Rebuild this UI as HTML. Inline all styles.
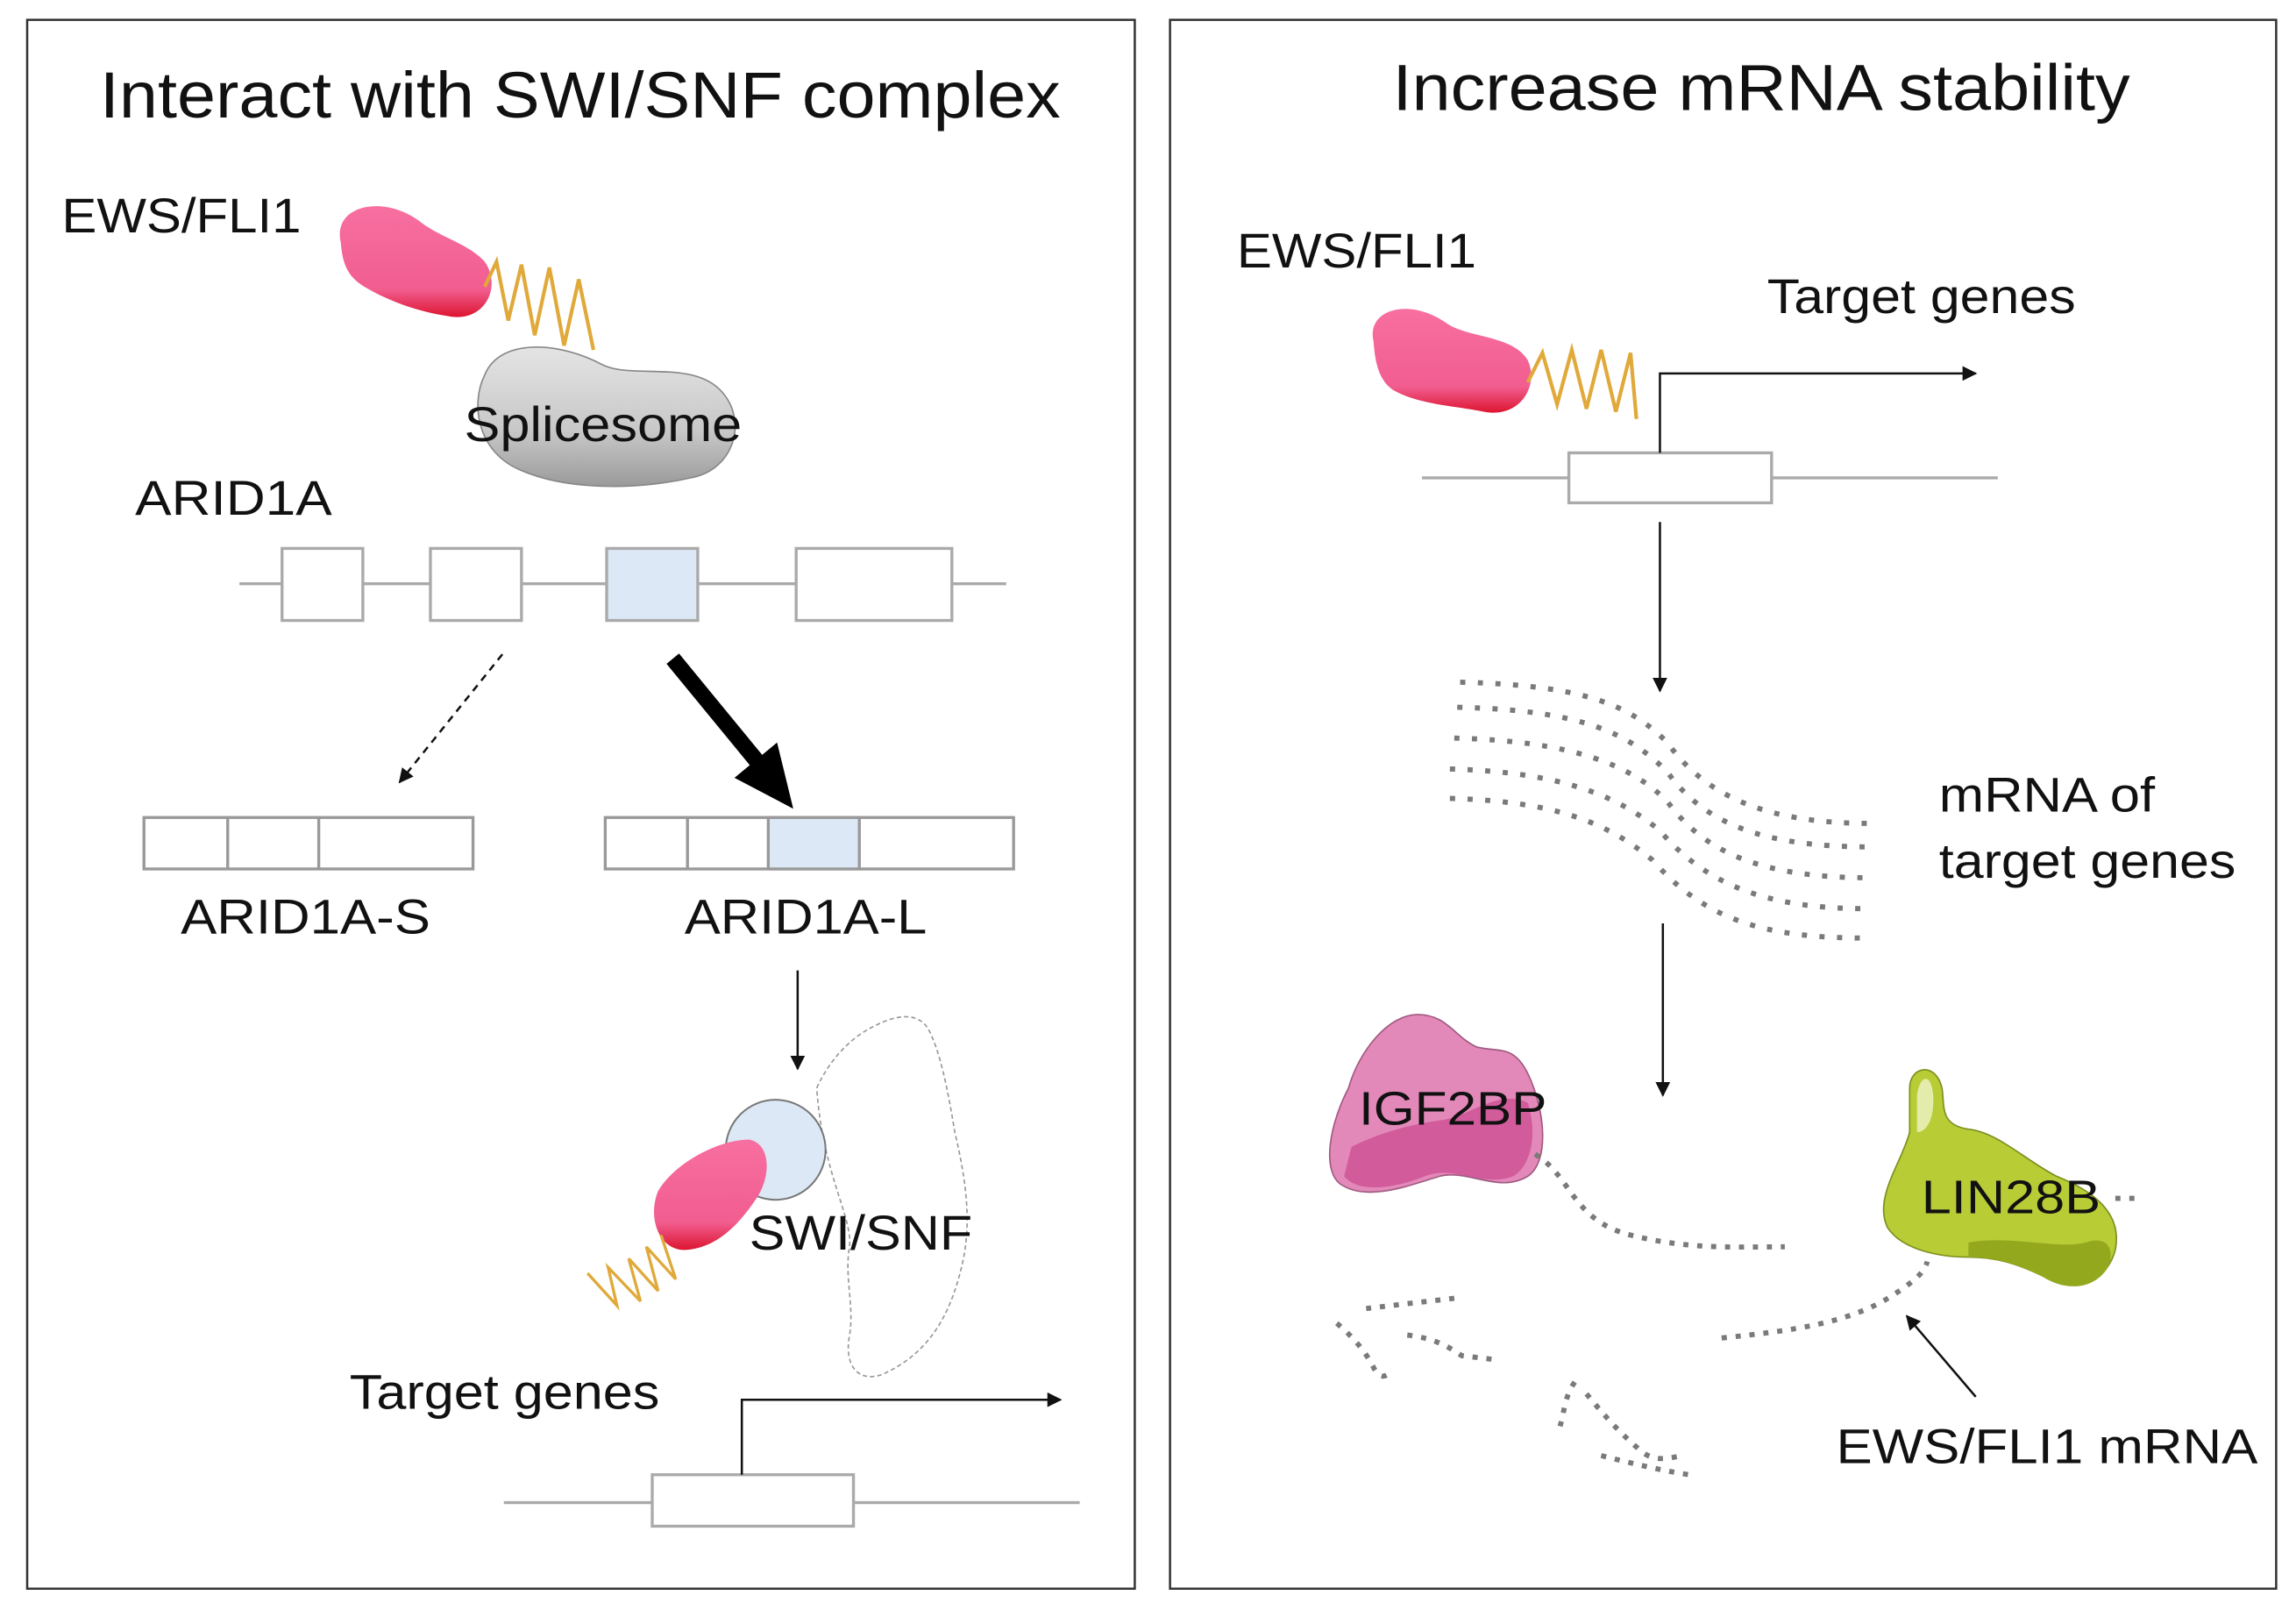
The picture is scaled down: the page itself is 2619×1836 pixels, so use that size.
<!DOCTYPE html>
<html><head><meta charset="utf-8"><style>
html,body{margin:0;padding:0;background:#fff;}
svg{display:block;}
text{font-family:"Liberation Sans",Arial,sans-serif;fill:#111;}
</style></head><body>
<svg width="2619" height="1836" viewBox="0 0 1563 1095" preserveAspectRatio="none" xmlns="http://www.w3.org/2000/svg">
<defs>
<marker id="ah" markerWidth="10" markerHeight="10" refX="9" refY="5" orient="auto" markerUnits="userSpaceOnUse"><path d="M0,0 L10,5 L0,10 Z" fill="#111"/></marker>
<linearGradient id="pk" x1="0" y1="0" x2="0" y2="1"><stop offset="0" stop-color="#f76fa0"/><stop offset="0.75" stop-color="#f25d90"/><stop offset="1" stop-color="#dc1530"/></linearGradient>
<linearGradient id="gr" x1="0" y1="0" x2="0" y2="1"><stop offset="0" stop-color="#e4e4e4"/><stop offset="0.6" stop-color="#c8c8c8"/><stop offset="1" stop-color="#9a9a9a"/></linearGradient>
</defs>
<rect width="1563" height="1095" fill="#fff"/>
<rect x="18.5" y="13.5" width="754" height="1067" fill="none" stroke="#333" stroke-width="1.5"/>
<rect x="796.5" y="13.5" width="753" height="1067" fill="none" stroke="#333" stroke-width="1.5"/>

<text x="68" y="80" font-size="44" textLength="654" lengthAdjust="spacingAndGlyphs">Interact with SWI/SNF complex</text>
<text x="948" y="75" font-size="44" textLength="502" lengthAdjust="spacingAndGlyphs">Increase mRNA stability</text>

<text x="42" y="158" font-size="33" textLength="163" lengthAdjust="spacingAndGlyphs">EWS/FLI1</text>
<path d="M232,165 C226,140 260,132 285,150 C300,162 318,165 330,178 C342,195 330,220 305,215 C285,212 265,205 248,195 C236,188 233,178 232,165 Z" fill="url(#pk)"/>
<path d="M330,195 L338,178 L346,218 L355,180 L364,228 L374,182 L384,235 L394,190 L404,238" fill="none" stroke="#e0a93a" stroke-width="2.5"/>
<path d="M330,255 C340,230 380,232 410,248 C430,258 470,245 490,265 C510,285 500,320 470,325 C440,332 390,335 355,320 C325,308 320,275 330,255 Z" fill="url(#gr)" stroke="#888" stroke-width="1"/>
<text x="316" y="300" font-size="33" textLength="189" lengthAdjust="spacingAndGlyphs">Splicesome</text>

<text x="92" y="350" font-size="33" textLength="134" lengthAdjust="spacingAndGlyphs">ARID1A</text>
<line x1="163" y1="397" x2="685" y2="397" stroke="#aaa" stroke-width="2"/>
<g stroke="#aaa" stroke-width="2">
<rect x="192" y="373" width="55" height="49" fill="#fff"/>
<rect x="293" y="373" width="62" height="49" fill="#fff"/>
<rect x="413" y="373" width="62" height="49" fill="#dce8f5"/>
<rect x="542" y="373" width="106" height="49" fill="#fff"/>
</g>
<line x1="342" y1="445" x2="272" y2="532" stroke="#111" stroke-width="1.5" stroke-dasharray="5 4" marker-end="url(#ah)"/>
<line x1="458" y1="448" x2="518" y2="521" stroke="#000" stroke-width="11"/>
<polygon points="540,550 500,529 529,505" fill="#000"/>

<g stroke="#999" stroke-width="2" fill="#fff">
<rect x="98" y="556" width="224" height="35"/>
<line x1="155" y1="556" x2="155" y2="591"/><line x1="217" y1="556" x2="217" y2="591"/>
<rect x="412" y="556" width="278" height="35"/>
<rect x="523" y="556" width="62" height="35" fill="#dce8f5"/>
<line x1="468" y1="556" x2="468" y2="591"/>
</g>
<text x="123" y="635" font-size="33" textLength="170" lengthAdjust="spacingAndGlyphs">ARID1A-S</text>
<text x="466" y="635" font-size="33" textLength="165" lengthAdjust="spacingAndGlyphs">ARID1A-L</text>
<line x1="543" y1="660" x2="543" y2="727" stroke="#111" stroke-width="1.5" marker-end="url(#ah)"/>

<path d="M556,740 C565,720 580,705 595,698 C610,690 625,688 632,700 C640,715 645,740 650,770 C657,800 662,830 655,860 C648,890 635,920 600,935 C585,940 575,930 578,910 C582,890 575,870 578,850 C582,830 560,800 556,740 Z" fill="none" stroke="#999" stroke-width="1" stroke-dasharray="3 2"/>
<circle cx="528" cy="782" r="34" fill="#dce8f5" stroke="#777" stroke-width="1.2"/>
<path d="M448,810 C460,790 490,775 510,775 C525,778 525,800 515,815 C505,830 490,848 468,850 C450,852 440,830 448,810 Z" fill="url(#pk)"/>
<path d="M450,840 L460,870 L440,848 L448,878 L428,856 L436,885 L414,862 L420,888 L400,866" fill="none" stroke="#e0a93a" stroke-width="2"/>
<text x="510" y="850" font-size="33" textLength="152" lengthAdjust="spacingAndGlyphs">SWI/SNF</text>

<text x="238" y="958" font-size="33" textLength="211" lengthAdjust="spacingAndGlyphs">Target genes</text>
<line x1="343" y1="1022" x2="735" y2="1022" stroke="#aaa" stroke-width="2"/>
<rect x="444" y="1003" width="137" height="35" fill="#fff" stroke="#aaa" stroke-width="2"/>
<polyline points="505,1003 505,952 722,952" fill="none" stroke="#111" stroke-width="1.5" marker-end="url(#ah)"/>

<text x="842" y="182" font-size="33" textLength="163" lengthAdjust="spacingAndGlyphs">EWS/FLI1</text>
<path d="M935,232 C930,210 960,202 985,220 C1000,230 1030,228 1040,245 C1048,262 1035,285 1010,280 C990,276 965,275 948,265 C938,258 936,245 935,232 Z" fill="url(#pk)"/>
<path d="M1040,260 L1050,240 L1060,275 L1070,238 L1080,278 L1090,238 L1100,280 L1110,240 L1114,285" fill="none" stroke="#e0a93a" stroke-width="2.5"/>
<text x="1203" y="213" font-size="33" textLength="210" lengthAdjust="spacingAndGlyphs">Target genes</text>
<line x1="968" y1="325" x2="1360" y2="325" stroke="#aaa" stroke-width="2"/>
<rect x="1068" y="308" width="138" height="34" fill="#fff" stroke="#aaa" stroke-width="2"/>
<polyline points="1130,308 1130,254 1345,254" fill="none" stroke="#111" stroke-width="1.5" marker-end="url(#ah)"/>
<line x1="1130" y1="355" x2="1130" y2="470" stroke="#111" stroke-width="1.5" marker-end="url(#ah)"/>

<g fill="none" stroke="#7a7a7a" stroke-width="3.5" stroke-dasharray="3.5 8.5">
<path d="M994,464 C1080,466 1110,480 1135,505 C1160,540 1200,560 1273,560"/>
<path d="M992,481 C1080,483 1110,500 1135,525 C1160,560 1200,576 1273,576"/>
<path d="M990,502 C1070,504 1110,520 1135,545 C1160,580 1200,597 1273,597"/>
<path d="M987,523 C1060,525 1100,540 1130,565 C1160,600 1200,618 1270,618"/>
<path d="M987,543 C1060,545 1095,560 1125,585 C1160,625 1200,638 1270,638"/>
</g>
<text x="1320" y="552" font-size="33" textLength="147" lengthAdjust="spacingAndGlyphs">mRNA of</text>
<text x="1320" y="597" font-size="33" textLength="202" lengthAdjust="spacingAndGlyphs">target genes</text>
<line x1="1132" y1="628" x2="1132" y2="745" stroke="#111" stroke-width="1.5" marker-end="url(#ah)"/>

<path d="M918,740 C925,715 945,690 965,690 C985,690 990,705 1005,712 C1020,716 1030,710 1040,730 C1052,755 1055,790 1040,800 C1020,812 1000,795 980,800 C960,806 930,818 912,805 C900,795 905,765 918,740 Z" fill="#e389b9" stroke="#a05a80" stroke-width="1"/>
<path d="M920,780 C940,770 960,765 980,762 C1000,760 1020,740 1040,750 C1048,775 1040,795 1030,800 C1010,808 990,792 970,800 C950,808 925,812 915,800 Z" fill="#d25b9c"/>
<text x="925" y="765" font-size="32" textLength="128" lengthAdjust="spacingAndGlyphs">IGF2BP</text>

<path d="M1300,740 C1300,725 1318,722 1322,740 C1324,752 1320,765 1340,768 C1360,770 1380,790 1400,800 C1425,810 1445,825 1440,850 C1435,870 1415,880 1395,870 C1375,860 1360,855 1340,855 C1320,855 1295,850 1285,835 C1275,815 1295,790 1300,770 Z" fill="#b8cc36" stroke="#7e8f20" stroke-width="1"/>
<path d="M1305,745 C1307,730 1315,730 1316,745 C1317,760 1312,770 1305,770 Z" fill="#e3ecaa"/>
<path d="M1340,845 C1370,840 1400,850 1420,845 C1435,840 1440,850 1435,862 C1425,878 1405,878 1390,868 C1370,858 1355,855 1340,855 Z" fill="#94a81e"/>
<text x="1308" y="825" font-size="32" textLength="122" lengthAdjust="spacingAndGlyphs">LIN28B</text>

<g fill="none" stroke="#7a7a7a" stroke-width="3.5" stroke-dasharray="3.5 6">
<path d="M1045,785 C1070,800 1070,830 1110,840 C1150,850 1180,848 1215,848"/>
<path d="M1172,910 C1220,905 1260,900 1290,880 C1305,870 1310,865 1312,858"/>
<path d="M1440,815 L1458,815"/>
<path d="M990,883 L955,887 L930,890"/>
<path d="M910,900 C922,910 930,920 935,930 C940,940 945,935 948,932"/>
<path d="M958,908 C975,910 985,915 995,922 L1020,925"/>
<path d="M1072,940 C1065,950 1065,960 1062,970"/>
<path d="M1080,948 C1090,960 1100,972 1115,985 C1125,995 1135,992 1145,990"/>
<path d="M1090,990 C1110,995 1130,1000 1150,1003"/>
</g>
<line x1="1345" y1="950" x2="1298" y2="895" stroke="#111" stroke-width="1.5" marker-end="url(#ah)"/>
<text x="1250" y="995" font-size="33" textLength="287" lengthAdjust="spacingAndGlyphs">EWS/FLI1 mRNA</text>
</svg>
</body></html>
